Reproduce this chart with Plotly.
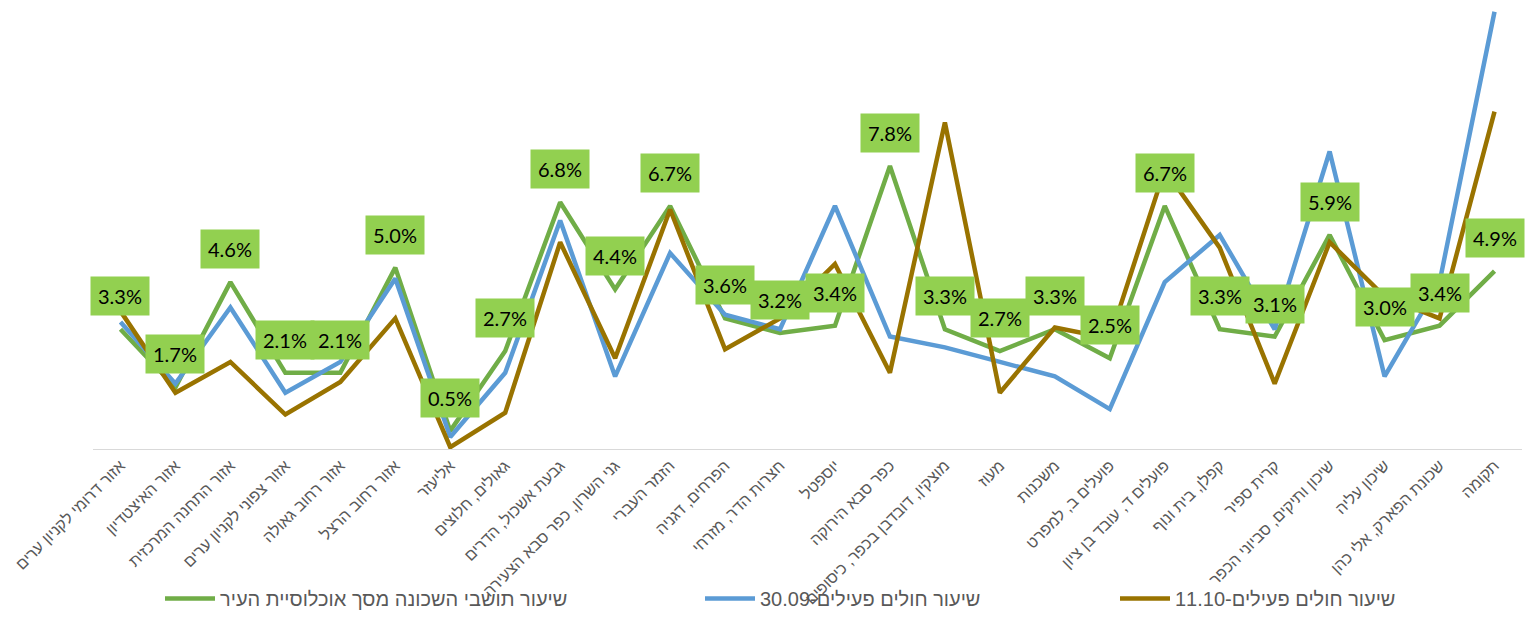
import plotly.graph_objects as go

categories = [
    "אזור דרומי לקניון ערים",
    "אזור האיצטדיון",
    "אזור התחנה המרכזית",
    "אזור צפוני לקניון ערים",
    "אזור רחוב גאולה",
    "אזור רחוב הרצל",
    "אליעזר",
    "גאולים, חלוצים",
    "גבעת אשכול, הדרים",
    "גני השרון, כפר סבא הצעירה",
    "הזמר העברי",
    "הפרחים, דגניה",
    "חצרות הדר, מזרחי",
    "יוספטל",
    "כפר סבא הירוקה",
    "מוצקין, דובדבן בכפר, כיסופים",
    "מעוז",
    "משכנות",
    "פועלים ב, למפרט",
    "פועלים ד, עובד בן ציון",
    "קפלן, בית ונוף",
    "קרית ספיר",
    "שיכון ותיקים, סביוני הכפר",
    "שיכון עליה",
    "שכונת הפארק, אלי כהן",
    "תקומה",
]

population_share = [3.3, 1.7, 4.6, 2.1, 2.1, 5.0, 0.5, 2.7, 6.8, 4.4, 6.7, 3.6, 3.2,
                    3.4, 7.8, 3.3, 2.7, 3.3, 2.5, 6.7, 3.3, 3.1, 5.9, 3.0, 3.4, 4.9]
active_3009 = [3.5, 1.8, 3.9, 1.55, 2.4, 4.7, 0.33, 2.1, 6.3, 2.0, 5.4, 3.7, 3.3,
               6.7, 3.1, 2.8, 2.4, 2.0, 1.1, 4.6, 5.9, 3.3, 8.2, 2.0, 4.6, 12.05]
active_1110 = [3.8, 1.55, 2.4, 0.95, 1.85, 3.6, 0.05, 1.0, 5.7, 2.5, 6.6, 2.75, 3.6,
               5.1, 2.1, 9.0, 1.55, 3.35, 3.05, 7.7, 5.55, 1.8, 5.7, 4.2, 3.6, 9.3]

series_names = [
    "שיעור תושבי השכונה מסך אוכלוסיית העיר",
    "30.09-שיעור חולים פעילים",
    "11.10-שיעור חולים פעילים",
]

GREEN = "#70AD47"
BLUE = "#5B9BD5"
BROWN = "#997300"
LABEL_FILL = "#92D050"

# page body has an 8px default margin; size the figure to fit inside the window
FIG_W, FIG_H = 1519, 610
OFFSET = 8

legend_ids = ["legend", "legend2", "legend3"]
legend_x_px = [160, 700, 1115]

fig = go.Figure()
for name, vals, col, lid in zip(series_names,
                                [population_share, active_3009, active_1110],
                                [GREEN, BLUE, BROWN], legend_ids):
    fig.add_trace(go.Scatter(
        x=categories, y=vals, name=name, mode="lines",
        line=dict(color=col, width=4.5), hoverinfo="skip",
        legend=lid,
    ))

for c, v in zip(categories, population_share):
    fig.add_annotation(
        x=c, y=v, text=f"{v:.1f}%", showarrow=False,
        yshift=33, bgcolor=LABEL_FILL, borderpad=7,
        font=dict(family="Lato, Liberation Sans, sans-serif", size=20, color="#000000"),
    )

legend_font = dict(family="Liberation Sans, DejaVu Sans, sans-serif", size=20, color="#595959")
legend_layout = {}
for lid, xp in zip(legend_ids, legend_x_px):
    legend_layout[lid] = dict(
        orientation="h", xref="container", yref="container",
        x=(xp - OFFSET) / FIG_W, xanchor="left",
        y=0.0, yanchor="bottom",
        font=legend_font, itemwidth=50, bgcolor="rgba(0,0,0,0)",
    )

fig.update_layout(
    width=FIG_W, height=FIG_H,
    margin=dict(l=93 - OFFSET, r=FIG_W - (1522 - OFFSET), t=10 - OFFSET,
                b=FIG_H - (449 - OFFSET), autoexpand=False),
    paper_bgcolor="white", plot_bgcolor="white",
    showlegend=True,
    xaxis=dict(
        type="category", range=[-0.5, len(categories) - 0.5],
        showline=True, linecolor="#D9D9D9", linewidth=1,
        showgrid=False, ticks="", tickangle=-45, automargin=False,
        tickfont=dict(family="Liberation Sans, DejaVu Sans, sans-serif", size=16, color="#595959"),
    ),
    yaxis=dict(
        range=[0, 12.1], showgrid=False, zeroline=False, showline=False,
        showticklabels=False, ticks="", automargin=False,
    ),
    **legend_layout,
)

fig.write_html("out.html")
